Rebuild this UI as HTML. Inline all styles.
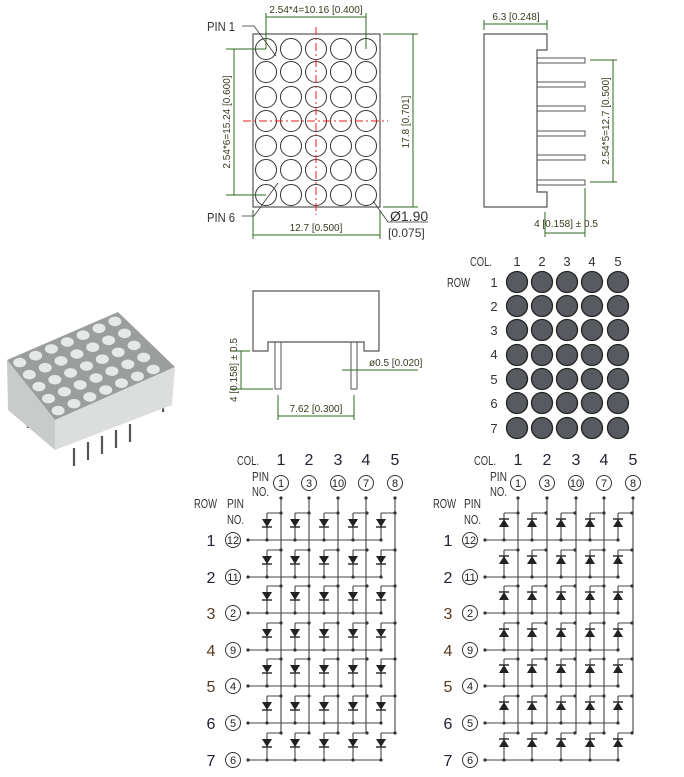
<!DOCTYPE html>
<html><head><meta charset="utf-8"><style>
body{margin:0;background:#fff}
svg{display:block}
text{font-family:"Liberation Sans Narrow","Liberation Sans",sans-serif}
.g{stroke:#2e6b1f;stroke-width:1;fill:none}
.gt{fill:#3a3a20;font-size:10px}
.lab{fill:#333;font-size:13px}
.num{font-size:16px;fill:#223}
.pn{font-size:11px;fill:#222;text-anchor:middle}
</style></head><body>
<svg width="684" height="777" viewBox="0 0 684 777" xmlns="http://www.w3.org/2000/svg">
<defs>
<g id="cL">
<path d="M0,-27H14M0,-27V0" stroke="#444" stroke-width="1.1" fill="none"/>
<polygon points="-5,-21 5,-21 0,-13" fill="#222"/>
<path d="M-5,-13H5" stroke="#222" stroke-width="1.4"/>
<circle cx="14" cy="-27" r="1.6" fill="#333"/><circle cx="0" cy="0" r="1.6" fill="#333"/>
</g>
<g id="cR">
<path d="M0,-27H14M0,-27V0" stroke="#444" stroke-width="1.1" fill="none"/>
<polygon points="-5,-13 5,-13 0,-21" fill="#222"/>
<path d="M-5,-21H5" stroke="#222" stroke-width="1.4"/>
<circle cx="14" cy="-27" r="1.6" fill="#333"/><circle cx="0" cy="0" r="1.6" fill="#333"/>
</g>
<g id="rowL">
<path d="M-19,0H114" stroke="#444" stroke-width="1.1"/><circle cx="-19" cy="0" r="1.6" fill="#333"/>
<use href="#cL" x="0"/><use href="#cL" x="28"/><use href="#cL" x="57"/><use href="#cL" x="86"/><use href="#cL" x="114"/>
</g>
<g id="rowR">
<path d="M-19,0H114" stroke="#444" stroke-width="1.1"/><circle cx="-19" cy="0" r="1.6" fill="#333"/>
<use href="#cR" x="0"/><use href="#cR" x="28"/><use href="#cR" x="57"/><use href="#cR" x="86"/><use href="#cR" x="114"/>
</g>
<g id="crow"><circle cx="266" cy="0" r="10.5"/><circle cx="291" cy="0" r="10.5"/><circle cx="316" cy="0" r="10.5"/><circle cx="341" cy="0" r="10.5"/><circle cx="366" cy="0" r="10.5"/></g>
<g id="drow"><circle cx="517" cy="0" r="10.5"/><circle cx="542" cy="0" r="10.5"/><circle cx="567" cy="0" r="10.5"/><circle cx="592" cy="0" r="10.5"/><circle cx="618" cy="0" r="10.5"/></g>
<g id="prow"><ellipse cx="19.7" cy="362.6" rx="6.5" ry="4.8"/><ellipse cx="35.6" cy="355.7" rx="6.5" ry="4.8"/><ellipse cx="51.4" cy="348.9" rx="6.5" ry="4.8"/><ellipse cx="67.3" cy="342" rx="6.5" ry="4.8"/><ellipse cx="83.1" cy="335.2" rx="6.5" ry="4.8"/><ellipse cx="99" cy="328.3" rx="6.5" ry="4.8"/><ellipse cx="114.9" cy="321.4" rx="6.5" ry="4.8"/></g>
</defs>

<!-- TOP VIEW -->
<rect x="253" y="34" width="127" height="173" fill="none" stroke="#555" stroke-width="1.2"/>
<g fill="none" stroke="#333" stroke-width="1">
<use href="#crow" y="49"/><use href="#crow" y="72"/><use href="#crow" y="97"/><use href="#crow" y="121"/><use href="#crow" y="146"/><use href="#crow" y="170"/><use href="#crow" y="195"/>
</g>
<path d="M316,27V215M243,121H388" stroke="#e22" stroke-width="1" stroke-dasharray="8,3,2,3"/>
<path class="g" d="M266,17H366M266,13V49M366,13V49M234,49V195M226,49H266M226,195H266M413,34V207M383,34H418M383,207H418M253,235H380M253,210V239M380,210V239"/>
<text class="gt" x="316" y="13" text-anchor="middle">2.54*4=10.16 [0.400]</text>
<text class="gt" transform="translate(230,122) rotate(-90)" text-anchor="middle">2.54*6=15.24 [0.600]</text>
<text class="gt" transform="translate(409,122) rotate(-90)" text-anchor="middle">17.8 [0.701]</text>
<text class="gt" x="316" y="231" text-anchor="middle">12.7 [0.500]</text>
<text class="lab" x="207" y="31" font-size="12" textLength="28" lengthAdjust="spacingAndGlyphs">PIN 1</text>
<text class="lab" x="207" y="222" font-size="12" textLength="28" lengthAdjust="spacingAndGlyphs">PIN 6</text>
<path d="M242,26H254L276,56M242,216H254L278,183M373,201L388,222H428" stroke="#333" stroke-width="0.8" fill="none"/>
<text x="390" y="221" font-size="14" fill="#333">Ø1.90</text>
<text x="388" y="237" font-size="12" fill="#333">[0.075]</text>

<!-- SIDE VIEW -->
<path d="M484,34H547V50H537V192H547V207H484Z" fill="none" stroke="#555" stroke-width="1.2"/>
<g fill="none" stroke="#555" stroke-width="1">
<rect x="537" y="58" width="48" height="5"/><rect x="537" y="82" width="48" height="5"/><rect x="537" y="106" width="48" height="5"/><rect x="537" y="131" width="48" height="5"/><rect x="537" y="155" width="48" height="5"/><rect x="537" y="180" width="48" height="5"/>
</g>
<path class="g" d="M484,24H547M484,20V30M547,20V30M613,60V182M590,60H617M590,182H617M545,233H585M545,212V237M585,188V237"/>
<text class="gt" x="516" y="20" text-anchor="middle">6.3 [0.248]</text>
<text class="gt" transform="translate(609,121) rotate(-90)" text-anchor="middle">2.54*5=12.7 [0.500]</text>
<text class="gt" x="566" y="227" text-anchor="middle">4 [0.158] ± 0.5</text>

<!-- FRONT VIEW -->
<path d="M253,291H379V351H364V342H268V351H253Z" fill="none" stroke="#555" stroke-width="1.2"/>
<rect x="275" y="342" width="6" height="47" fill="none" stroke="#555"/>
<rect x="351" y="342" width="6" height="47" fill="none" stroke="#555"/>
<path class="g" d="M241,351V389M230,351H250M230,389H273M278,416H354M278,395V420M354,395V420M342,370H418"/>
<text class="gt" transform="translate(237,370) rotate(-90)" text-anchor="middle">4 [0.158] ± 0.5</text>
<text class="gt" x="316" y="412" text-anchor="middle">7.62 [0.300]</text>
<text class="gt" x="369" y="366">ø0.5 [0.020]</text>

<!-- PHOTO -->
<g stroke="#555" stroke-width="2.2">
<path d="M28,415V428M74,448V466M88,442V460M102,436V454M116,430V448M130,424V442M163,400V412"/>
</g>
<path d="M7,360L118,312L175,367L55,420Z" fill="#9c9e9e"/>
<path d="M7,360L55,420L55,450L8,410Z" fill="#c9cbcb"/>
<path d="M55,420L175,367L172,405L55,450Z" fill="#dcdddd"/>
<g fill="#e4e8e6"><use href="#prow"/><use href="#prow" transform="translate(9.6,12)"/><use href="#prow" transform="translate(19.2,24)"/><use href="#prow" transform="translate(28.8,36)"/><use href="#prow" transform="translate(38.4,48)"/></g>

<!-- DOT GRID -->
<text class="lab" x="470" y="266" textLength="22" lengthAdjust="spacingAndGlyphs">COL.</text>
<g class="lab" font-size="13" text-anchor="middle"><text x="517" y="266">1</text><text x="542" y="266">2</text><text x="567" y="266">3</text><text x="592" y="266">4</text><text x="618" y="266">5</text>
<text x="494" y="287">1</text><text x="494" y="311">2</text><text x="494" y="335">3</text><text x="494" y="359">4</text><text x="494" y="384">5</text><text x="494" y="408">6</text><text x="494" y="433">7</text></g>
<text class="lab" x="447" y="287" textLength="23" lengthAdjust="spacingAndGlyphs">ROW</text>
<g fill="#575a5e" stroke="#222" stroke-width="1.3">
<use href="#drow" y="282"/><use href="#drow" y="306"/><use href="#drow" y="330"/><use href="#drow" y="355"/><use href="#drow" y="379"/><use href="#drow" y="403"/><use href="#drow" y="428"/>
</g>

<!-- LEFT SCHEMATIC -->
<text class="lab" x="237" y="465" textLength="22" lengthAdjust="spacingAndGlyphs">COL.</text>
<g class="num" text-anchor="middle"><text x="281" y="465">1</text><text x="309" y="465">2</text><text x="338" y="465">3</text><text x="366" y="465">4</text><text x="395" y="465">5</text></g>
<text class="lab" x="252" y="481" textLength="17" lengthAdjust="spacingAndGlyphs">PIN</text><text class="lab" x="252" y="496" textLength="17" lengthAdjust="spacingAndGlyphs">NO.</text>
<text class="lab" x="194" y="508" textLength="23" lengthAdjust="spacingAndGlyphs">ROW</text><text class="lab" x="227" y="508" textLength="17" lengthAdjust="spacingAndGlyphs">PIN</text><text class="lab" x="227" y="524" textLength="17" lengthAdjust="spacingAndGlyphs">NO.</text>
<g fill="none" stroke="#333"><circle cx="281" cy="483" r="7.5"/><circle cx="309" cy="483" r="7.5"/><circle cx="338" cy="483" r="7.5"/><circle cx="366" cy="483" r="7.5"/><circle cx="395" cy="483" r="7.5"/></g>
<g class="pn"><text x="281" y="487">1</text><text x="309" y="487">3</text><text x="338" y="487">10</text><text x="366" y="487">7</text><text x="395" y="487">8</text></g>
<path d="M281,498V733M309,498V733M338,498V733M366,498V733M395,498V733" stroke="#444" stroke-width="1.1"/>
<g fill="#333"><circle cx="281" cy="498" r="1.6"/><circle cx="309" cy="498" r="1.6"/><circle cx="338" cy="498" r="1.6"/><circle cx="366" cy="498" r="1.6"/><circle cx="395" cy="498" r="1.6"/></g>
<use href="#rowL" x="267" y="540"/><use href="#rowL" x="267" y="577"/><use href="#rowL" x="267" y="613"/><use href="#rowL" x="267" y="650"/><use href="#rowL" x="267" y="686"/><use href="#rowL" x="267" y="723"/><use href="#rowL" x="267" y="760"/>
<g class="num" text-anchor="middle"><text x="211" y="546">1</text><text x="211" y="583">2</text><text x="211" y="619" fill="#5a3a20">3</text><text x="211" y="656" fill="#5a3a20">4</text><text x="211" y="692" fill="#5a3a20">5</text><text x="211" y="729">6</text><text x="211" y="766">7</text></g>
<g fill="none" stroke="#333"><circle cx="233" cy="540" r="7.5"/><circle cx="233" cy="577" r="7.5"/><circle cx="233" cy="613" r="7.5"/><circle cx="233" cy="650" r="7.5"/><circle cx="233" cy="686" r="7.5"/><circle cx="233" cy="723" r="7.5"/><circle cx="233" cy="760" r="7.5"/></g>
<g class="pn"><text x="233" y="544">12</text><text x="233" y="581">11</text><text x="233" y="617">2</text><text x="233" y="654">9</text><text x="233" y="690">4</text><text x="233" y="727">5</text><text x="233" y="764">6</text></g>

<!-- RIGHT SCHEMATIC -->
<text class="lab" x="474" y="465" textLength="22" lengthAdjust="spacingAndGlyphs">COL.</text>
<g class="num" text-anchor="middle"><text x="518" y="465">1</text><text x="547" y="465">2</text><text x="576" y="465">3</text><text x="604" y="465">4</text><text x="633" y="465">5</text></g>
<text class="lab" x="490" y="481" textLength="17" lengthAdjust="spacingAndGlyphs">PIN</text><text class="lab" x="490" y="496" textLength="17" lengthAdjust="spacingAndGlyphs">NO.</text>
<text class="lab" x="433" y="508" textLength="23" lengthAdjust="spacingAndGlyphs">ROW</text><text class="lab" x="464" y="508" textLength="17" lengthAdjust="spacingAndGlyphs">PIN</text><text class="lab" x="464" y="524" textLength="17" lengthAdjust="spacingAndGlyphs">NO.</text>
<g fill="none" stroke="#333"><circle cx="518" cy="483" r="7.5"/><circle cx="547" cy="483" r="7.5"/><circle cx="576" cy="483" r="7.5"/><circle cx="604" cy="483" r="7.5"/><circle cx="633" cy="483" r="7.5"/></g>
<g class="pn"><text x="518" y="487">1</text><text x="547" y="487">3</text><text x="576" y="487">10</text><text x="604" y="487">7</text><text x="633" y="487">8</text></g>
<path d="M518,498V733M547,498V733M576,498V733M604,498V733M633,498V733" stroke="#444" stroke-width="1.1"/>
<g fill="#333"><circle cx="518" cy="498" r="1.6"/><circle cx="547" cy="498" r="1.6"/><circle cx="576" cy="498" r="1.6"/><circle cx="604" cy="498" r="1.6"/><circle cx="633" cy="498" r="1.6"/></g>
<use href="#rowR" x="504" y="540"/><use href="#rowR" x="504" y="577"/><use href="#rowR" x="504" y="613"/><use href="#rowR" x="504" y="650"/><use href="#rowR" x="504" y="686"/><use href="#rowR" x="504" y="723"/><use href="#rowR" x="504" y="760"/>
<g class="num" text-anchor="middle"><text x="448" y="546">1</text><text x="448" y="583">2</text><text x="448" y="619" fill="#5a3a20">3</text><text x="448" y="656" fill="#5a3a20">4</text><text x="448" y="692" fill="#5a3a20">5</text><text x="448" y="729">6</text><text x="448" y="766">7</text></g>
<g fill="none" stroke="#333"><circle cx="470" cy="540" r="7.5"/><circle cx="470" cy="577" r="7.5"/><circle cx="470" cy="613" r="7.5"/><circle cx="470" cy="650" r="7.5"/><circle cx="470" cy="686" r="7.5"/><circle cx="470" cy="723" r="7.5"/><circle cx="470" cy="760" r="7.5"/></g>
<g class="pn"><text x="470" y="544">12</text><text x="470" y="581">11</text><text x="470" y="617">2</text><text x="470" y="654">9</text><text x="470" y="690">4</text><text x="470" y="727">5</text><text x="470" y="764">6</text></g>
</svg>
</body></html>
